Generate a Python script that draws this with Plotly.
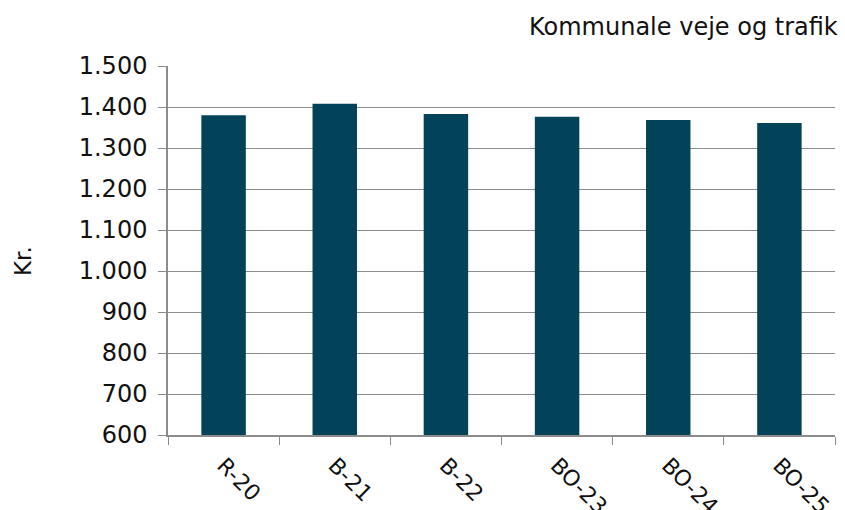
import plotly.graph_objects as go

categories = ["R-20", "B-21", "B-22", "BO-23", "BO-24", "BO-25"]
values = [1380, 1408, 1383, 1376, 1368, 1361]
y_ticks = [600, 700, 800, 900, 1000, 1100, 1200, 1300, 1400, 1500]
y_tick_labels = [f"{v:,}".replace(",", ".") for v in y_ticks]

FONT = "DejaVu Sans, Verdana, sans-serif"
AXIS_GREY = "#8c8c8c"

W, H = 845, 510
ML, MR, MT, MB = 168, 10, 66, 75
PW, PH = W - ML - MR, H - MT - MB

fig = go.Figure(
    go.Bar(
        x=categories,
        y=values,
        marker=dict(color="#02435A", line=dict(width=0)),
        width=0.4,
    )
)

fig.update_layout(
    width=W,
    height=H,
    paper_bgcolor="white",
    plot_bgcolor="white",
    margin=dict(l=ML, r=MR, t=MT, b=MB, autoexpand=False),
    showlegend=False,
    font=dict(family=FONT, color="#111111"),
    annotations=[
        dict(
            text="Kommunale veje og trafik",
            x=1 + 5 / PW, xref="paper", xanchor="right",
            y=1 + (MT - 27) / PH, yref="paper", yanchor="middle",
            showarrow=False,
            font=dict(family=FONT, size=24, color="#111111"),
        ),
        dict(
            text="Kr.",
            x=-(ML - 23) / PW, xref="paper", xanchor="center",
            y=1 - (261 - MT) / PH, yref="paper", yanchor="middle",
            textangle=-90,
            showarrow=False,
            font=dict(family=FONT, size=23, color="#111111"),
        ),
    ],
)

fig.update_xaxes(
    type="category",
    automargin=False,
    tickson="boundaries",
    ticks="outside",
    ticklen=8,
    tickcolor=AXIS_GREY,
    showline=True,
    linecolor=AXIS_GREY,
    linewidth=1.5,
    showgrid=False,
    tickangle=45,
    ticklabelstandoff=7,
    tickfont=dict(family=FONT, size=22, color="#111111"),
)
fig.update_yaxes(
    automargin=False,
    range=[600, 1500],
    tickvals=y_ticks,
    ticktext=y_tick_labels,
    ticks="outside",
    ticklen=8,
    tickcolor=AXIS_GREY,
    showline=True,
    linecolor=AXIS_GREY,
    linewidth=1.5,
    showgrid=True,
    gridcolor=AXIS_GREY,
    gridwidth=1,
    zeroline=False,
    ticklabelstandoff=6,
    tickfont=dict(family=FONT, size=24, color="#111111"),
)

fig.write_html("out.html")
